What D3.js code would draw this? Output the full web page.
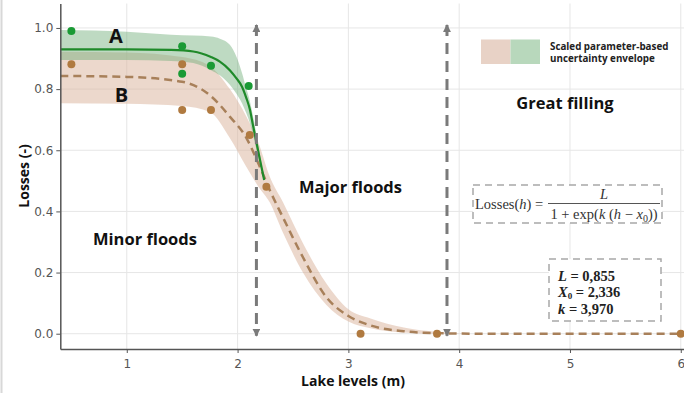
<!DOCTYPE html>
<html>
<head>
<meta charset="utf-8">
<script src="https://cdn.jsdelivr.net/npm/d3@7"></script>
<style>
  body { margin: 0; background: #fff; }
  svg { display: block; }
</style>
</head>
<body>
<div class="chart"></div>
<script>
// ticks
const xTicks = [1, 2, 3, 4, 5, 6];
const yTicks = [0, 0.2, 0.4, 0.6, 0.8, 1.0];

// observed points
const obsA_x = [0.50, 1.50, 1.50, 1.76, 2.10];
const obsA_y = [0.99, 0.94, 0.85, 0.876, 0.81];
const obsB_x = [0.50, 1.50, 1.50, 1.76, 2.11, 2.26, 3.11, 3.80, 6.00];
const obsB_y = [0.881, 0.881, 0.732, 0.732, 0.65, 0.481, 0.0, 0.0, 0.0];

// fitted curve A and its envelope
const fitA_x  = [0.4, 1.0, 1.4, 1.6, 1.76, 1.84, 1.93, 1.99, 2.04, 2.08, 2.11, 2.14, 2.19, 2.24];
const fitA_y  = [0.93, 0.93, 0.928, 0.923, 0.905, 0.89, 0.862, 0.835, 0.808, 0.77, 0.735, 0.68, 0.59, 0.503];
const bandA_hi = [0.993, 0.988, 0.978, 0.975, 0.972, 0.965, 0.945, 0.906, 0.853, 0.80, 0.762, 0.71, 0.61, 0.503];
const bandA_lo = [0.895, 0.895, 0.892, 0.885, 0.862, 0.845, 0.814, 0.785, 0.754, 0.72, 0.69, 0.65, 0.57, 0.503];

// fitted curve B and its envelope
const fitB_x  = [0.4, 1.0, 1.5, 1.75, 1.93, 2.08, 2.19, 2.29, 2.41, 2.59, 2.80, 3.0, 3.2, 3.5, 3.8, 4.2, 6.0];
const fitB_y  = [0.843, 0.84, 0.824, 0.78, 0.71, 0.64, 0.555, 0.47, 0.38, 0.25, 0.12, 0.058, 0.027, 0.008, 0.002, 0.0, 0.0];
const bandB_hi = [0.922, 0.92, 0.905, 0.875, 0.80, 0.71, 0.623, 0.514, 0.43, 0.296, 0.165, 0.08, 0.05, 0.02, 0.006, 0.0, 0.0];
const bandB_lo = [0.754, 0.752, 0.745, 0.725, 0.64, 0.545, 0.48, 0.43, 0.33, 0.20, 0.095, 0.04, 0.018, 0.004, 0.0, 0.0, 0.0];

// vertical limits between regimes
const limitX = [2.17, 3.89];

const width = 684, height = 393;
const sans = "'Open Sans', Lato, sans-serif";
const serif = "'Liberation Serif', 'DejaVu Serif', serif";

const x = d3.scaleLinear().domain([0.4, 6.03]).range([60.3, 684.1]);
const y = d3.scaleLinear().domain([-0.05, 1.08]).range([349, 3.5]);

const svg = d3.select(".chart").append("svg")
    .attr("width", width)
    .attr("height", height);

svg.append("line")
    .attr("x1", 1.5).attr("x2", 1.5).attr("y1", 0).attr("y2", height)
    .attr("stroke", "#d8d8d8").attr("stroke-width", 2);

// grid
const grid = svg.append("g").attr("stroke", "#e6e6e6").attr("stroke-width", 1);
grid.selectAll("line.v").data(xTicks).enter().append("line")
    .attr("x1", d => x(d)).attr("x2", d => x(d))
    .attr("y1", y(1.08)).attr("y2", y(-0.05));
grid.selectAll("line.h").data(yTicks).enter().append("line")
    .attr("x1", x(0.4)).attr("x2", x(6.03))
    .attr("y1", d => y(d)).attr("y2", d => y(d));

// envelopes
const area = d3.area().curve(d3.curveMonotoneX);
const line = d3.line().curve(d3.curveMonotoneX);

svg.append("path")
    .attr("d", area.x(d => x(d)).y0((d, i) => y(bandB_lo[i])).y1((d, i) => y(bandB_hi[i]))(fitB_x))
    .attr("fill", "#d9b29a").attr("fill-opacity", 0.5);

svg.append("path")
    .attr("d", area.x(d => x(d)).y0((d, i) => y(bandA_lo[i])).y1((d, i) => y(bandA_hi[i]))(fitA_x))
    .attr("fill", "#6fae78").attr("fill-opacity", 0.45);

// fitted lines
svg.append("path")
    .attr("d", line(fitB_x.map((d, i) => [x(d), y(fitB_y[i])])))
    .attr("fill", "none")
    .attr("stroke", "#a8805a")
    .attr("stroke-width", 2.5)
    .attr("stroke-dasharray", "8,5");

svg.append("path")
    .attr("d", line(fitA_x.map((d, i) => [x(d), y(fitA_y[i])])))
    .attr("fill", "none")
    .attr("stroke", "#1f8a2a")
    .attr("stroke-width", 2.2);

// points
svg.append("g").selectAll("circle")
    .data(obsB_x.map((d, i) => [d, obsB_y[i]]))
    .enter().append("circle")
    .attr("cx", d => x(d[0])).attr("cy", d => y(d[1])).attr("r", 4)
    .attr("fill", "#b07a40");

svg.append("g").selectAll("circle")
    .data(obsA_x.map((d, i) => [d, obsA_y[i]]))
    .enter().append("circle")
    .attr("cx", d => x(d[0])).attr("cy", d => y(d[1])).attr("r", 4)
    .attr("fill", "#1a9a35");

// arrows
svg.append("defs").append("marker")
    .attr("id", "head")
    .attr("viewBox", "0 0 10 10")
    .attr("refX", 9).attr("refY", 5)
    .attr("markerWidth", 8).attr("markerHeight", 8)
    .attr("markerUnits", "userSpaceOnUse")
    .attr("orient", "auto-start-reverse")
    .append("path")
    .attr("d", "M0,0 L10,5 L0,10 z")
    .attr("fill", "#7a7a7a");

svg.append("g").selectAll("line")
    .data(limitX)
    .enter().append("line")
    .attr("x1", d => x(d)).attr("x2", d => x(d))
    .attr("y1", y(1.01)).attr("y2", y(-0.007))
    .attr("stroke", "#7a7a7a")
    .attr("stroke-width", 3)
    .attr("stroke-dasharray", "11,7")
    .attr("marker-start", "url(#head)")
    .attr("marker-end", "url(#head)");

// axes
const yAxis = svg.append("g")
    .attr("transform", `translate(${x(0.4)},0)`)
    .call(d3.axisLeft(y).tickValues(yTicks).tickFormat(d3.format(".1f")).tickSize(4).tickSizeOuter(0));
const xAxis = svg.append("g")
    .attr("transform", `translate(0,${y(-0.05)})`)
    .call(d3.axisBottom(x).tickValues(xTicks).tickFormat(d3.format("d")).tickSize(4).tickSizeOuter(0));

[xAxis, yAxis].forEach(g => {
    g.select(".domain").attr("stroke", "#555").attr("stroke-width", 1.5);
    g.selectAll(".tick line").attr("stroke", "#555");
    g.selectAll(".tick text")
        .attr("fill", "#555")
        .style("font-family", "'DejaVu Sans', sans-serif")
        .style("font-size", "12px");
});
xAxis.selectAll(".tick text").attr("dy", "1em");

svg.append("text")
    .attr("x", 353).attr("y", 386)
    .attr("text-anchor", "middle")
    .style("font-family", sans).style("font-weight", "bold").style("font-size", "14px")
    .attr("fill", "#111")
    .text("Lake levels (m)");

svg.append("text")
    .attr("transform", "translate(29,176) rotate(-90)")
    .attr("text-anchor", "middle")
    .style("font-family", sans).style("font-weight", "bold").style("font-size", "14px")
    .attr("fill", "#111")
    .text("Losses (-)");

// annotations
const notes = [
    { t: "A", px: 116, py: 43, size: 20 },
    { t: "B", px: 121.5, py: 102, size: 20 },
    { t: "Minor floods", px: 145, py: 245, size: 16.5 },
    { t: "Major floods", px: 350.5, py: 193, size: 16.5 },
    { t: "Great filling", px: 565, py: 109, size: 16.5 }
];
svg.append("g").selectAll("text")
    .data(notes)
    .enter().append("text")
    .attr("x", d => d.px).attr("y", d => d.py)
    .attr("text-anchor", "middle")
    .style("font-family", sans).style("font-weight", "bold")
    .style("font-size", d => d.size + "px")
    .attr("fill", "#111")
    .text(d => d.t);

// legend
const legend = svg.append("g");
legend.append("rect").attr("x", 481).attr("y", 39.5).attr("width", 29.5).attr("height", 24.5).attr("fill", "#e8d2c6");
legend.append("rect").attr("x", 510.5).attr("y", 39.5).attr("width", 29.5).attr("height", 24.5).attr("fill", "#b8d8bc");
legend.append("text").attr("x", 550).attr("y", 49.5)
    .style("font-family", sans).style("font-weight", "bold").style("font-size", "9.8px")
    .attr("fill", "#222").text("Scaled parameter-based");
legend.append("text").attr("x", 550).attr("y", 61.5)
    .style("font-family", sans).style("font-weight", "bold").style("font-size", "9.8px")
    .attr("fill", "#222").text("uncertainty envelope");

// formula box
const box = (bx, by, bw, bh) => svg.append("rect")
    .attr("x", bx).attr("y", by).attr("width", bw).attr("height", bh)
    .attr("fill", "#fff").attr("stroke", "#a8a8a8")
    .attr("stroke-width", 1.5).attr("stroke-dasharray", "7,5");

box(473, 185, 189, 38);
const formula = svg.append("g")
    .style("font-family", serif).style("font-size", "14.5px").attr("fill", "#333");
const lhs = formula.append("text").attr("x", 475).attr("y", 208.5);
lhs.append("tspan").text("Losses(");
lhs.append("tspan").style("font-style", "italic").text("h");
lhs.append("tspan").text(") =");
formula.append("line")
    .attr("x1", 548).attr("x2", 660).attr("y1", 203.5).attr("y2", 203.5)
    .attr("stroke", "#555").attr("stroke-width", 1);
formula.append("text").attr("x", 604).attr("y", 198.5)
    .attr("text-anchor", "middle").style("font-style", "italic").text("L");
const den = formula.append("text").attr("x", 604).attr("y", 219).attr("text-anchor", "middle");
den.append("tspan").text("1 + exp(");
den.append("tspan").style("font-style", "italic").text("k");
den.append("tspan").text(" (");
den.append("tspan").style("font-style", "italic").text("h");
den.append("tspan").text(" − ");
den.append("tspan").style("font-style", "italic").text("x");
den.append("tspan").attr("font-size", "10px").attr("dy", 2.5).text("0");
den.append("tspan").attr("dy", -2.5).text("))");

// parameters box
box(549, 259, 112, 62);
const params = svg.append("g")
    .style("font-family", serif).style("font-size", "14.5px")
    .style("font-weight", "bold").attr("fill", "#222");
const p1 = params.append("text").attr("x", 558).attr("y", 280.5);
p1.append("tspan").style("font-style", "italic").text("L");
p1.append("tspan").text(" = 0,855");
const p2 = params.append("text").attr("x", 558).attr("y", 297);
p2.append("tspan").style("font-style", "italic").text("X");
p2.append("tspan").attr("font-size", "9px").attr("dy", 2).text("0");
p2.append("tspan").attr("dy", -2).text(" = 2,336");
const p3 = params.append("text").attr("x", 558).attr("y", 313.5);
p3.append("tspan").style("font-style", "italic").text("k");
p3.append("tspan").text(" = 3,970");
</script>
</body>
</html>
